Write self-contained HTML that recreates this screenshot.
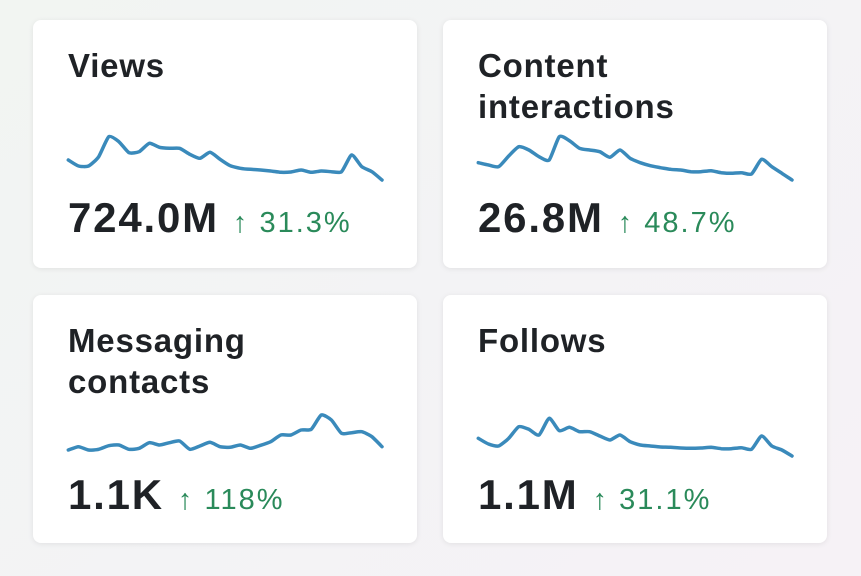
<!DOCTYPE html>
<html><head><meta charset="utf-8">
<style>
html,body{margin:0;padding:0}
body{width:861px;height:576px;overflow:hidden;background:linear-gradient(135deg,#f2f5f2 0%,#f3f3f5 50%,#f6f2f6 100%);font-family:"Liberation Sans",sans-serif;position:relative}
.card{position:absolute;width:384px;height:248px;background:#fff;border-radius:8px;box-shadow:0 1px 6px rgba(0,0,0,0.08)}
.title{position:absolute;left:35px;top:25px;font-size:33px;font-weight:bold;color:#1f2226;line-height:41px;letter-spacing:0.8px}
.val{position:absolute;left:35px;font-size:42px;font-weight:bold;color:#1f2226;white-space:nowrap;letter-spacing:1.8px}
.pct{font-size:29px;font-weight:normal;color:#2a8a5a;margin-left:14px;letter-spacing:2px}
svg{position:absolute;left:0;top:0}
</style></head><body>
<div class="card" style="left:33px;top:20px">
 <div class="title">Views</div>
 <div class="val" style="top:174px">724.0M<span class="pct">↑ 31.3%</span></div>
</div>
<div class="card" style="left:443px;top:20px">
 <div class="title">Content<br>interactions</div>
 <div class="val" style="top:174px">26.8M<span class="pct">↑ 48.7%</span></div>
</div>
<div class="card" style="left:33px;top:295px">
 <div class="title">Messaging<br>contacts</div>
 <div class="val" style="top:176px">1.1K<span class="pct">↑ 118%</span></div>
</div>
<div class="card" style="left:443px;top:295px">
 <div class="title">Follows</div>
 <div class="val" style="top:176px">1.1M<span class="pct">↑ 31.1%</span></div>
</div>
<svg id="spark" width="861" height="576"></svg>
<script>
const viewsValues=[80,62,62,90,150,135,102,105,130,118,115,115,97,85,103,82,63,55,52,50,47,43,44,50,43,47,45,45,95,60,45,20];
const contentValues=[72,65,60,92,120,110,90,80,150,138,115,110,105,88,110,85,72,63,57,52,50,45,45,48,42,40,42,38,82,60,40,20];
const messagingValues=[50,60,50,52,63,65,52,55,72,65,72,77,52,62,73,60,58,65,55,64,75,95,95,110,112,155,140,100,102,105,90,60];
const followsValues=[85,68,62,85,120,112,95,145,108,118,105,105,92,80,95,75,65,62,59,58,56,55,56,58,54,54,57,52,92,62,50,32];
const series=[
 {vals:viewsValues,left:60,top:120,name:'views-sparkline'},
 {vals:contentValues,left:470,top:120,name:'content-interactions-sparkline'},
 {vals:messagingValues,left:60,top:400,name:'messaging-contacts-sparkline'},
 {vals:followsValues,left:470,top:400,name:'follows-sparkline'}];
const svg=document.getElementById('spark');
series.forEach(s=>{
 const n=s.vals.length;
 const x0=s.left+25/3,x1=s.left+966/3;
 const xs=i=>x0+(x1-x0)*i/(n-1);
 const ys=v=>s.top+(200-v)/3;
 const pts=s.vals.map((v,i)=>[xs(i),ys(v)]);
 let d='M'+pts[0][0].toFixed(1)+','+pts[0][1].toFixed(1);
 const t=10;
 for(let i=0;i<pts.length-1;i++){
  const p0=pts[Math.max(i-1,0)],p1=pts[i],p2=pts[i+1],p3=pts[Math.min(i+2,pts.length-1)];
  const c1x=p1[0]+(p2[0]-p0[0])/t,c1y=p1[1]+(p2[1]-p0[1])/t;
  const c2x=p2[0]-(p3[0]-p1[0])/t,c2y=p2[1]-(p3[1]-p1[1])/t;
  d+=' C'+c1x.toFixed(1)+','+c1y.toFixed(1)+' '+c2x.toFixed(1)+','+c2y.toFixed(1)+' '+p2[0].toFixed(1)+','+p2[1].toFixed(1);
 }
 const p=document.createElementNS('http://www.w3.org/2000/svg','path');
 p.setAttribute('d',d);
 p.setAttribute('fill','none');
 p.setAttribute('stroke','#3a8abb');
 p.setAttribute('stroke-width','3.5');
 p.setAttribute('stroke-linejoin','round');
 p.setAttribute('stroke-linecap','round');
 
 
 svg.appendChild(p);
});
</script>
</body></html>
